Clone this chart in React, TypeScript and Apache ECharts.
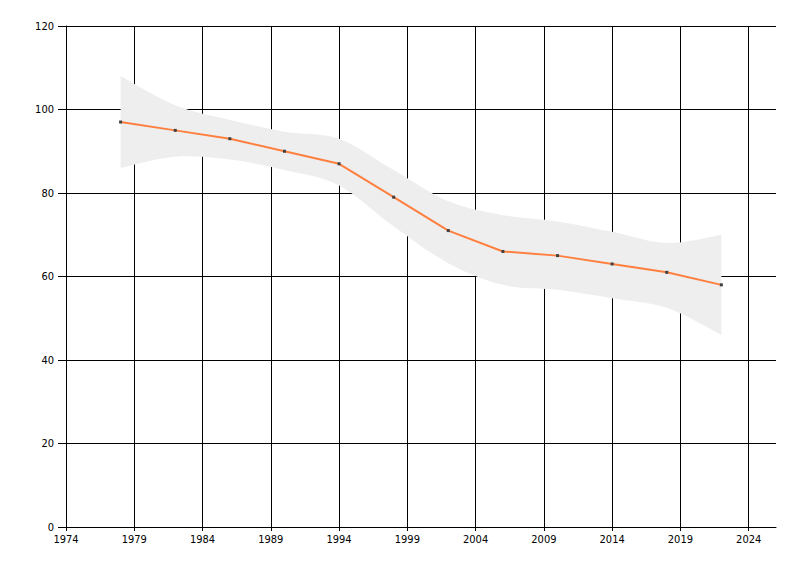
import React, { useEffect, useRef } from "react";
import * as echarts from "echarts";

const years = [1978, 1982, 1986, 1990, 1994, 1998, 2002, 2006, 2010, 2014, 2018, 2022];
const values = [97, 95, 93, 90, 87, 79, 71, 66, 65, 63, 61, 58];
const upperBand = [108, 101, 97.5, 94.7, 93, 85.5, 78, 74.7, 73.2, 70.7, 68, 70];
const lowerBand = [86, 88.7, 88, 85.5, 81.8, 72, 63.2, 58, 56.8, 54.8, 52.5, 46];
const xTickYears = [1974, 1979, 1984, 1989, 1994, 1999, 2004, 2009, 2014, 2019, 2024];
const yTicks = [0, 20, 40, 60, 80, 100, 120];

function smoothPath(pts: number[][], move: boolean): string {
  let d = "";
  const n = pts.length;
  d += (move ? "M" : "L") + pts[0][0] + "," + pts[0][1];
  for (let i = 0; i < n - 1; i++) {
    const p0 = pts[Math.max(0, i - 1)];
    const p1 = pts[i];
    const p2 = pts[i + 1];
    const p3 = pts[Math.min(n - 1, i + 2)];
    const c1x = p1[0] + (p2[0] - p0[0]) / 6;
    const c1y = p1[1] + (p2[1] - p0[1]) / 6;
    const c2x = p2[0] - (p3[0] - p1[0]) / 6;
    const c2y = p2[1] - (p3[1] - p1[1]) / 6;
    d += "C" + c1x + "," + c1y + "," + c2x + "," + c2y + "," + p2[0] + "," + p2[1];
  }
  return d;
}

export default function App() {
  const ref = useRef<HTMLDivElement>(null);
  useEffect(() => {
    document.body.style.margin = "0";
    if (!ref.current) return;
    const chart = echarts.init(ref.current, undefined, { renderer: "svg" });
    const font = {
      fontFamily: "'DejaVu Sans Condensed', 'Liberation Sans', sans-serif",
      fontSize: 11,
      color: "#000",
    };
    chart.setOption({
      animation: false,
      backgroundColor: "#fff",
      grid: { left: 66, right: 24, top: 26, bottom: 49, containLabel: false },
      xAxis: {
        type: "value",
        min: 1974,
        max: 2026,
        axisLine: { show: true, lineStyle: { color: "#000", width: 1 } },
        axisTick: {
          show: true,
          length: 4,
          lineStyle: { color: "#000" },
          customValues: xTickYears,
        },
        axisLabel: {
          ...font,
          margin: 7,
          customValues: xTickYears,
          formatter: (v: number) => String(v),
        },
        splitLine: { show: true, lineStyle: { color: "#000", width: 1 } },
      },
      yAxis: {
        type: "value",
        min: yTicks[0],
        max: yTicks[yTicks.length - 1],
        interval: 20,
        axisLine: { show: true, lineStyle: { color: "#000", width: 1 } },
        axisTick: { show: true, length: 8, lineStyle: { color: "#000" } },
        axisLabel: { ...font, margin: 12, formatter: (v: number) => String(v) },
        splitLine: { show: true, lineStyle: { color: "#000", width: 1 } },
      },
      series: [
        {
          type: "custom",
          name: "band",
          silent: true,
          z: 2,
          data: years.map((y, i) => [y, upperBand[i], lowerBand[i]]),
          encode: { x: 0, y: [1, 2] },
          renderItem: (params: any, api: any) => {
            if (params.dataIndex !== 0) return null;
            const up = years.map((y, i) => api.coord([y, upperBand[i]]));
            const lo = years.map((y, i) => api.coord([y, lowerBand[i]])).reverse();
            const d = smoothPath(up, true) + smoothPath(lo, false) + "Z";
            return {
              type: "path",
              shape: { pathData: d },
              style: { fill: "#eeeeee", stroke: "none" },
            };
          },
        },
        {
          type: "line",
          name: "value",
          data: years.map((y, i) => [y, values[i]]),
          symbol: "rect",
          symbolSize: 3,
          showAllSymbol: true,
          itemStyle: { color: "#404040" },
          lineStyle: { color: "#ff7f3f", width: 2 },
          z: 3,
        },
      ],
    });
    return () => chart.dispose();
  }, []);
  return <div ref={ref} style={{ width: 800, height: 576 }} />;
}
